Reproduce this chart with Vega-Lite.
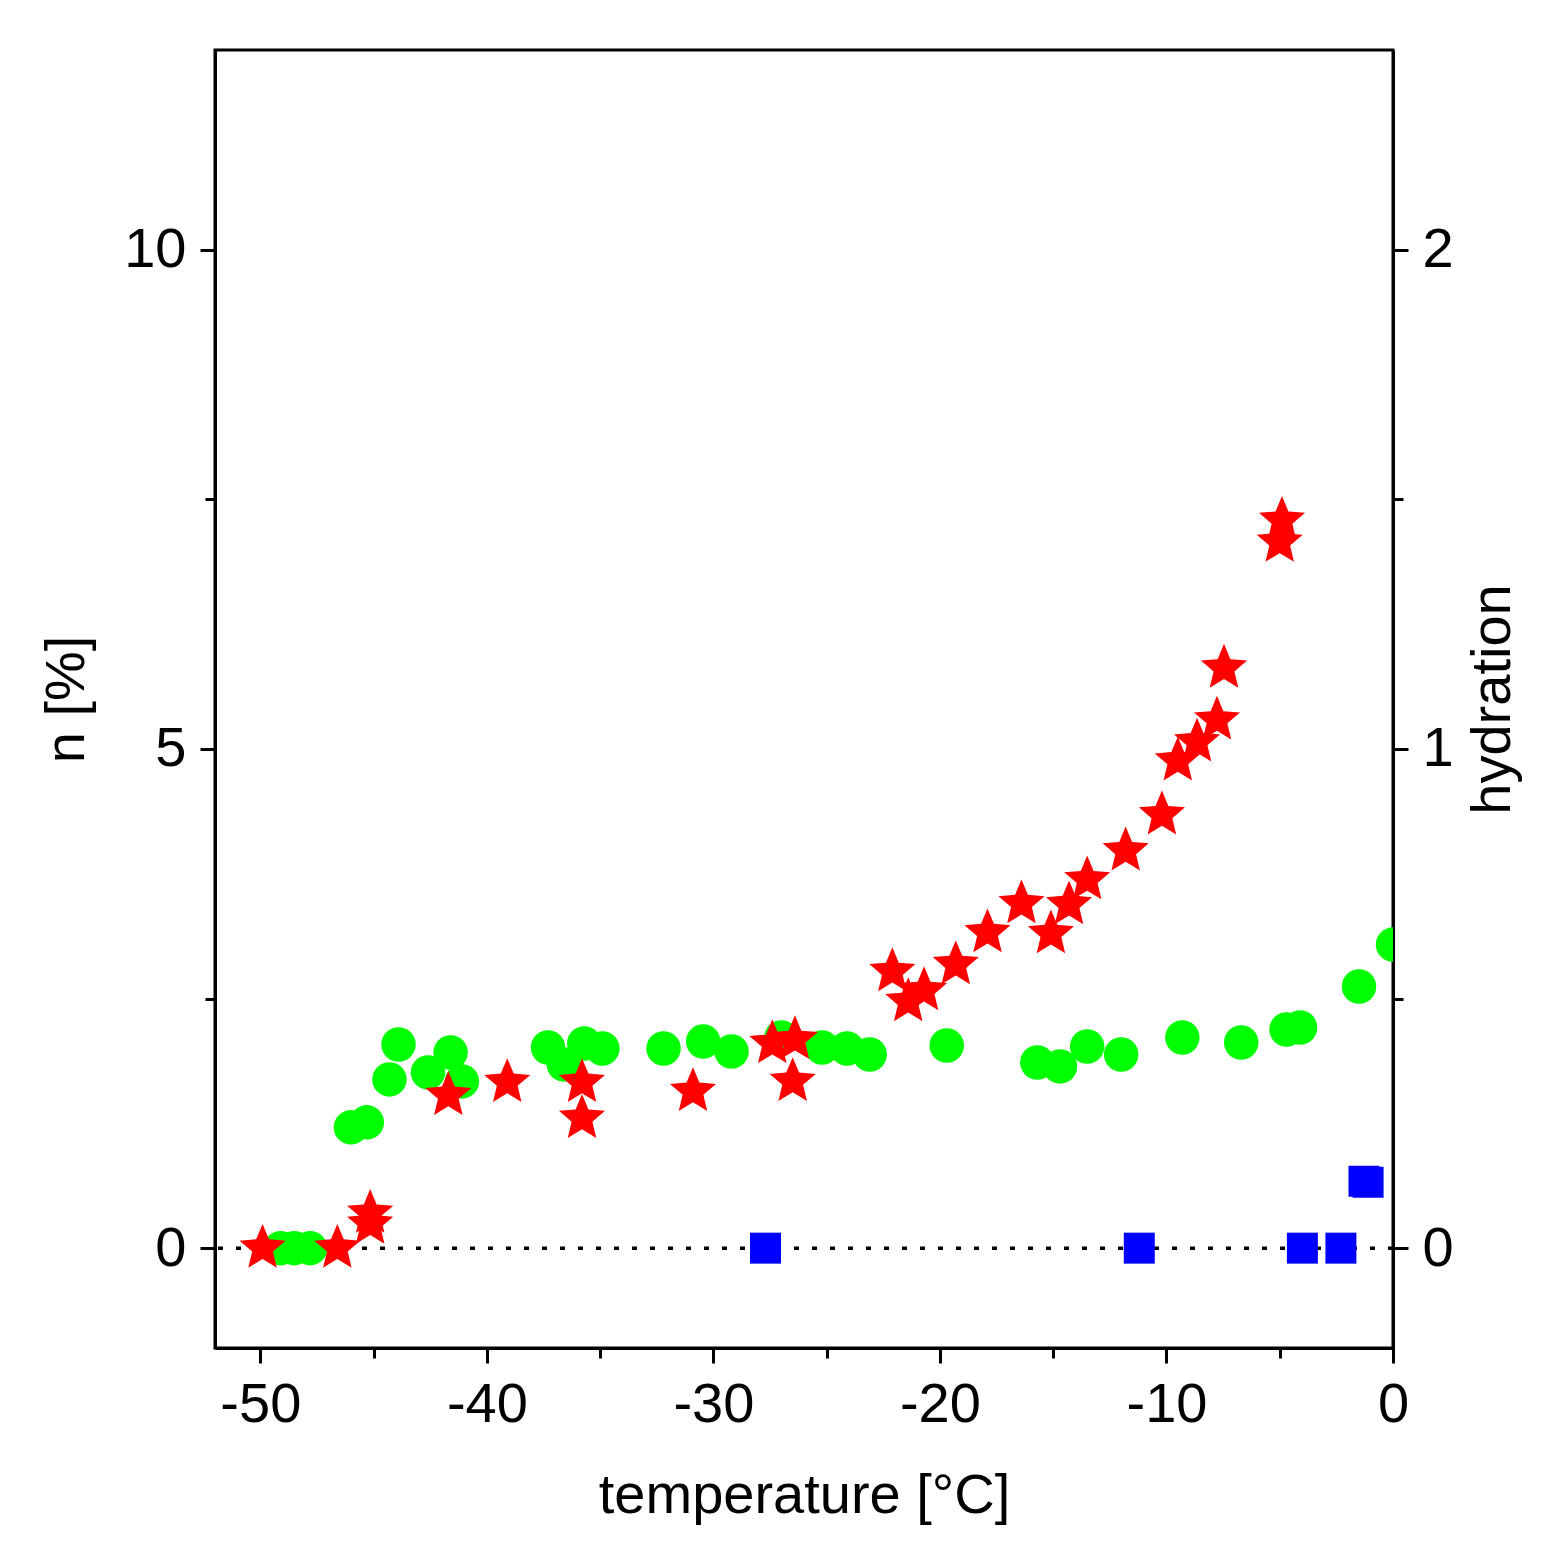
{
  "$schema": "https://vega.github.io/schema/vega-lite/v6.json",
  "width": 1178,
  "height": 1298,
  "autosize": {"type": "none"},
  "padding": {"left": 215, "top": 50, "right": 162, "bottom": 207},
  "background": "white",
  "config": {
    "view": {"stroke": "black", "strokeWidth": 3},
    "font": "Liberation Sans",
    "axis": {
      "grid": false,
      "domainColor": "black",
      "domainWidth": 3,
      "tickColor": "black",
      "tickWidth": 3,
      "labelFont": "Liberation Sans",
      "labelFontSize": 56,
      "labelColor": "black",
      "titleFont": "Liberation Sans",
      "titleFontSize": 56,
      "titleFontWeight": "normal",
      "titleColor": "black"
    }
  },
  "datasets": {
    "stars": [
      {"T": -49.9, "n": 0.0},
      {"T": -46.6, "n": 0.0},
      {"T": -45.15, "n": 0.35},
      {"T": -45.15, "n": 0.24},
      {"T": -41.7, "n": 1.53},
      {"T": -39.1, "n": 1.66},
      {"T": -35.8, "n": 1.66},
      {"T": -35.8, "n": 1.30},
      {"T": -30.9, "n": 1.57},
      {"T": -27.4, "n": 2.05},
      {"T": -26.4, "n": 2.09},
      {"T": -26.5, "n": 1.67},
      {"T": -22.1, "n": 2.77},
      {"T": -21.4, "n": 2.47},
      {"T": -20.7, "n": 2.58},
      {"T": -19.3, "n": 2.84},
      {"T": -17.9, "n": 3.16},
      {"T": -16.4, "n": 3.45},
      {"T": -15.1, "n": 3.15},
      {"T": -14.3, "n": 3.44},
      {"T": -13.5, "n": 3.69},
      {"T": -11.8, "n": 3.98},
      {"T": -10.2, "n": 4.34},
      {"T": -9.5, "n": 4.88},
      {"T": -8.65, "n": 5.07},
      {"T": -7.77, "n": 5.29},
      {"T": -7.46, "n": 5.81},
      {"T": -5.0, "n": 7.07},
      {"T": -4.9, "n": 7.29}
    ],
    "circles": [
      {"T": -49.1, "hydration": 0.0},
      {"T": -48.5, "hydration": 0.0},
      {"T": -47.8, "hydration": 0.0},
      {"T": -46.0, "hydration": 0.242},
      {"T": -45.3, "hydration": 0.252},
      {"T": -44.3, "hydration": 0.338},
      {"T": -43.9, "hydration": 0.408},
      {"T": -42.6, "hydration": 0.352},
      {"T": -41.6, "hydration": 0.392},
      {"T": -41.1, "hydration": 0.334},
      {"T": -37.3, "hydration": 0.402},
      {"T": -36.6, "hydration": 0.368},
      {"T": -35.7, "hydration": 0.41},
      {"T": -34.9, "hydration": 0.40},
      {"T": -32.2, "hydration": 0.40},
      {"T": -30.45, "hydration": 0.414},
      {"T": -29.2, "hydration": 0.394},
      {"T": -27.0, "hydration": 0.422},
      {"T": -25.2, "hydration": 0.402},
      {"T": -24.1, "hydration": 0.40},
      {"T": -23.1, "hydration": 0.388},
      {"T": -19.7, "hydration": 0.406},
      {"T": -15.7, "hydration": 0.372},
      {"T": -14.7, "hydration": 0.364},
      {"T": -13.5, "hydration": 0.404},
      {"T": -12.0, "hydration": 0.388},
      {"T": -9.3, "hydration": 0.422},
      {"T": -6.7, "hydration": 0.412},
      {"T": -4.7, "hydration": 0.438},
      {"T": -4.1, "hydration": 0.442},
      {"T": -1.5, "hydration": 0.524},
      {"T": 0.0, "hydration": 0.608}
    ],
    "squares": [
      {"T": -27.7, "n": 0.0},
      {"T": -11.2, "n": 0.0},
      {"T": -4.0, "n": 0.0},
      {"T": -2.3, "n": 0.0},
      {"T": -1.28, "n": 0.67},
      {"T": -1.1, "n": 0.66}
    ]
  },
  "encoding": {
    "x": {
      "field": "T",
      "type": "quantitative",
      "scale": {"domain": [-52, 0], "nice": false, "zero": false},
      "axis": {
        "title": "temperature [°C]",
        "values": [-50, -45, -40, -35, -30, -25, -20, -15, -10, -5, 0],
        "labelExpr": "datum.value % 10 === 0 ? '' + datum.value : ''",
        "tickSize": {"condition": {"test": "datum.value % 10 === 0", "value": 15}, "value": 10},
        "labelPadding": 14,
        "titlePadding": 36,
        "labelFlush": false
      }
    }
  },
  "layer": [
    {
      "data": {"values": [{}]},
      "mark": {"type": "rule", "color": "black", "strokeWidth": 3.5, "strokeDash": [5, 13]},
      "encoding": {
        "x": null,
        "y": {
          "datum": 0,
          "type": "quantitative",
          "scale": {"domain": [-1, 12], "nice": false, "zero": false},
          "axis": {
            "orient": "left",
            "title": "n [%]",
            "values": [0, 2.5, 5, 7.5, 10],
            "labelExpr": "datum.value % 5 === 0 ? '' + datum.value : ''",
            "tickSize": {"condition": {"test": "datum.value % 5 === 0", "value": 15}, "value": 10},
            "labelPadding": 14,
            "titlePadding": 28
          }
        }
      }
    },
    {
      "data": {"name": "circles"},
      "mark": {"type": "point", "shape": "circle", "filled": true, "color": "#00ff00", "opacity": 1, "size": 1190, "clip": true},
      "encoding": {
        "y": {
          "field": "hydration",
          "type": "quantitative",
          "scale": {"domain": [-0.2, 2.4], "nice": false, "zero": false},
          "axis": {
            "orient": "right",
            "title": "hydration",
            "titleAngle": -90,
            "values": [0, 0.5, 1, 1.5, 2],
            "labelExpr": "datum.value % 1 === 0 ? '' + datum.value : ''",
            "tickSize": {"condition": {"test": "datum.value % 1 === 0", "value": 15}, "value": 10},
            "labelPadding": 14,
            "titlePadding": 68
          }
        }
      }
    },
    {
      "data": {"name": "squares"},
      "mark": {"type": "point", "shape": "square", "filled": true, "color": "#0000ff", "opacity": 1, "size": 960},
      "encoding": {
        "y": {
          "field": "n",
          "type": "quantitative",
          "scale": {"domain": [-1, 12], "nice": false, "zero": false},
          "axis": null
        }
      }
    },
    {
      "data": {"name": "stars"},
      "mark": {
        "type": "point",
        "shape": "M0,-1L0.265,-0.364L0.951,-0.309L0.428,0.139L0.588,0.809L0,0.45L-0.588,0.809L-0.428,0.139L-0.951,-0.309L-0.265,-0.364Z",
        "filled": true,
        "color": "#ff0000",
        "opacity": 1,
        "size": 2350
      },
      "encoding": {
        "y": {
          "field": "n",
          "type": "quantitative",
          "scale": {"domain": [-1, 12], "nice": false, "zero": false},
          "axis": null
        }
      }
    }
  ],
  "resolve": {"scale": {"y": "independent"}, "axis": {"y": "independent"}}
}
